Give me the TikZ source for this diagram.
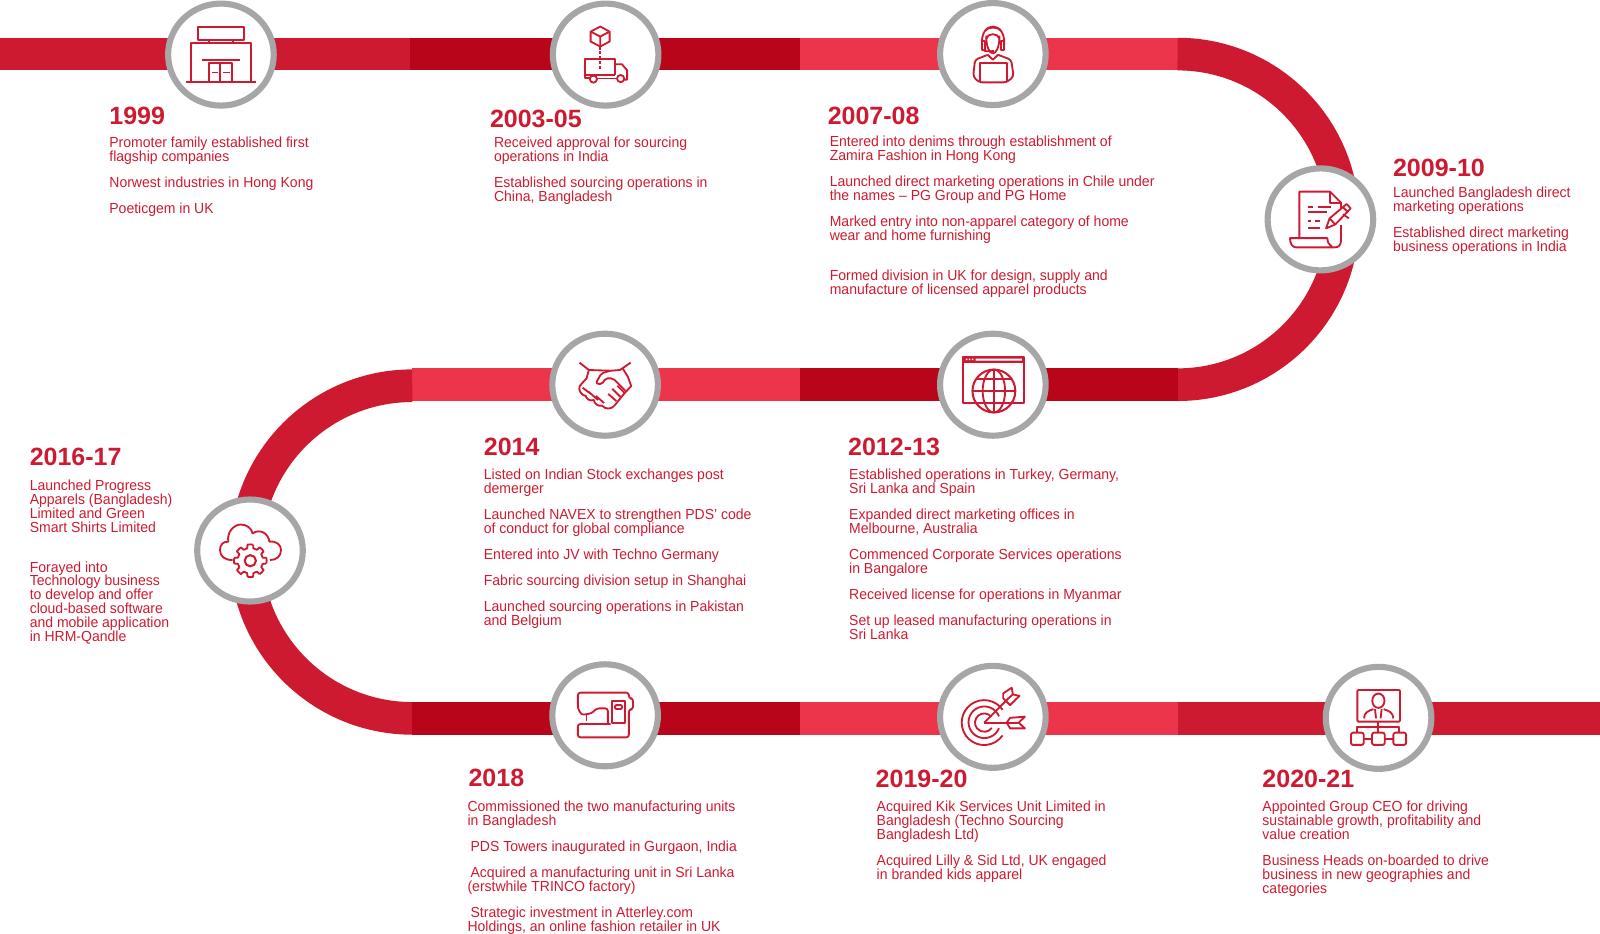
\documentclass[tikz,border=0pt]{standalone}
\usepackage{fontspec}
\setmainfont[FakeStretch=0.96, BoldFeatures={FakeStretch=1}]{Liberation Sans}
\usetikzlibrary{shapes.geometric}
\usetikzlibrary{positioning}
\definecolor{bandred}{HTML}{CE1A30}
\definecolor{banddark}{HTML}{B90519}
\definecolor{bandlight}{HTML}{EC344A}
\definecolor{ringgrey}{HTML}{A6A6A6}
\newcommand\bandwd{32pt}
\newcommand\iconwd{1.8pt}
\tikzset{
    band/.style={line width=\bandwd},
    stage/.style={ellipse, draw=ringgrey, fill=white, line width=6pt, inner sep=0pt,
        minimum width=103.5pt, minimum height=100pt},
    icon/.style={draw=bandred, line width=\iconwd, line join=round},
    yearlabel/.style={anchor=west, inner sep=0pt, yshift=-1pt, text=bandred,
        font=\fontsize{24.5}{28}\selectfont\bfseries},
    milestone/.style={anchor=north west, inner sep=0pt, yshift=5pt, align=left, text=bandred,
        font=\fontsize{14.3}{13.7}\selectfont, execute at begin node=\strut}
}
\begin{document}
\begin{tikzpicture}[x=1pt, y=-1pt]
  \useasboundingbox (0, 0) rectangle (1568, 915.3);
  \draw[band, bandred] (0, 53) -- (402, 53);
  \draw[band, banddark] (402, 53) -- (784, 53);
  \draw[band, bandlight] (784, 53) -- (1154, 53);
  \draw[band, bandred] (1154, 53) arc[start angle=90, end angle=-90, radius=162pt];
  \draw[band, banddark] (1154, 377) -- (784, 377);
  \draw[band, bandlight] (784, 377) -- (404, 377);
  \draw[band, bandred] (404, 378) arc[start angle=90, end angle=270, radius=163pt];
  \draw[band, banddark] (404, 704) -- (784, 704);
  \draw[band, bandlight] (784, 704) -- (1154, 704);
  \draw[band, bandred] (1154, 704) -- (1568, 704);

  \draw (216.5, 53.5) node[stage] (store) {};
  \draw (593.5, 53.5) node[stage] (truck) {};
  \draw (973, 53) node[stage] (agent) {};
  \draw (1294, 215) node[stage] (scroll) {};
  \draw (593, 377) node[stage] (shake) {};
  \draw (973, 377) node[stage] (globe) {};
  \draw (245, 539.5) node[stage] (cloud) {};
  \draw (593, 701) node[stage] (sewing) {};
  \draw (973, 702.5) node[stage] (target) {};
  \draw (1351, 703.5) node[stage] (screen) {};

  \draw[icon] (194, 26.6) rectangle (239, 39);
  \draw[icon] (205, 39) -- (205, 42) (228, 39) -- (228, 42);
  \draw[icon] (187, 80.5) -- (187, 42) -- (246, 42) -- (246, 80.5);
  \draw[icon, line width=2.4pt] (197.5, 59) -- (235.5, 59);
  \draw[icon] (205, 80.5) -- (205, 62) -- (227, 62) -- (227, 80.5) (216, 62) -- (216, 80.5);
  \draw[icon] (208, 71) -- (214, 71) (218.5, 71) -- (225, 71);
  \draw[icon] (182.5, 80.5) -- (250.7, 80.5);

  \draw[icon] (588.3, 26) -- (597.4, 31) -- (597.4, 40.7) -- (588.3, 45.6) -- (578.8, 40.7) -- (578.8, 31) -- cycle;
  \draw[icon] (578.8, 31) -- (588.3, 35.8) -- (597.4, 31) (588.3, 35.8) -- (588.3, 45.6);
  \draw[icon, dashed, dash pattern=on 3pt off 1.8pt] (588.3, 45.6) -- (588.3, 68.4);
  \draw[icon] (602.8, 73.3) -- (602.8, 57.7) -- (573.7, 57.7) -- (573.7, 76.5) -- (578, 76.5);
  \draw[icon] (573.7, 73.3) -- (602.8, 73.3);
  \draw[icon] (602.8, 62.9) -- (609.5, 62.9) -- (614.6, 69) -- (614.6, 78) -- (611.7, 78);
  \draw[icon] (585, 77) -- (604.7, 77);
  \draw[icon] (581.5, 77.5) circle[radius=3.5pt];
  \draw[icon] (608.2, 77) circle[radius=3.5pt];

  \draw[icon] (966.5, 35) .. controls (966.5, 58) and (979.5, 58) .. (979.5, 35);
  \draw[icon] (966.5, 38) .. controls (968, 32) and (978, 32) .. (979.5, 38);
  \draw[icon] (962.5, 44) .. controls (960, 20) and (986, 20) .. (984, 44);
  \draw[icon] (965.5, 30) .. controls (968, 26) and (978, 26) .. (981, 30);
  \draw[icon] (962.5, 40) rectangle (965.5, 49) (981, 40) rectangle (984, 49);
  \draw[icon] (964, 49) .. controls (965, 50.5) and (968, 50.5) .. (974, 50);
  \draw[icon] (968, 53.7) -- (973, 58.6) -- (978, 53.7);
  \draw[icon, rounded corners=3pt] (968, 53.7) -- (955.5, 58.6) -- (953.7, 75) -- (959.5, 80.7) -- (986.5, 80.7) -- (993.3, 75) -- (991, 58.6) -- (978, 53.7);
  \draw[icon] (960.5, 80.7) -- (960.5, 62) -- (987.2, 62) -- (987.2, 80.7);

  \draw[icon] (1273.4, 233) -- (1273.4, 187.8) -- (1303.4, 187.8) -- (1314.2, 198.6) -- (1314.2, 204.2);
  \draw[icon] (1303.4, 187.8) -- (1303.4, 198.6) -- (1314.2, 198.6);
  \draw[icon] (1314.2, 220.5) -- (1314.2, 235.2) .. controls (1314.2, 240) and (1312, 242.4) .. (1308.3, 242.4) -- (1270, 242.4) .. controls (1266, 242.4) and (1264.2, 238) .. (1264.2, 233.4) -- (1300.8, 233.4) .. controls (1301, 237) and (1302, 240) .. (1305, 241.5);
  \draw[icon] (1281.5, 202.5) -- (1286.4, 202.5) (1292, 202.5) -- (1304, 202.5);
  \draw[icon] (1281.5, 208) -- (1300.8, 208);
  \draw[icon] (1281.5, 216.6) -- (1284.5, 216.6) (1288.7, 216.6) -- (1293.6, 216.6);
  \draw[icon] (1281.5, 223.8) -- (1293.6, 223.8);
  \draw[icon] (1299.5, 223.8) -- (1303, 214) -- (1319.7, 199.9) -- (1323.7, 204.2) -- (1308.5, 220) -- cycle;
  \draw[icon] (1303, 214) -- (1308.5, 220) (1316, 203) -- (1320.5, 207.5) (1316, 210) -- (1322, 214);

  \draw[icon] (568, 355.4) -- (577.1, 362.6) -- (598.4, 363.3);
  \draw[icon] (618, 355.4) -- (607.5, 362.6) -- (598.4, 363.3);
  \draw[icon] (577.1, 362.6) -- (574.8, 370.8) -- (568, 378.3);
  \draw[icon] (610.2, 361) -- (615.3, 369.2) -- (618.6, 378.3) -- (611.9, 385.5) -- (601.8, 397.9);
  \draw[icon, rounded corners=2pt] (598.4, 363.3) -- (589.3, 365.9) -- (583.9, 375.7) -- (590, 376.6) -- (593.3, 370.8) -- (600.8, 370.8) -- (612.9, 382.9);
  \draw[icon] (568, 378.3) to[bend right=50] (574, 388) to[bend right=50] (582, 392) to[bend right=50] (590, 397.5) to[bend right=50] (601.8, 397.9);
  \draw[icon] (571, 380) -- (579, 386) (577, 384) -- (586, 392) (584, 388) -- (592, 395);
  \draw[icon] (605, 378) -- (612, 385) (600, 381) -- (608, 389) (596, 386) -- (604, 393);

  \draw[icon] (966, 395.3) -- (943.7, 395.3) -- (943.7, 349.5) -- (1003.7, 349.5) -- (1003.7, 395.3) -- (982, 395.3);
  \fill[bandred] (943.7, 349.5) rectangle (1003.7, 356);
  \fill[white] (946.5, 351.5) rectangle (948, 353) (949.5, 351.5) rectangle (951, 353) (952.5, 351.5) rectangle (954, 353) (956, 351.5) rectangle (1001.5, 353.5);
  \draw[icon, line width=2pt] (974, 383.2) circle[radius=21pt];
  \draw[icon] (974, 383.2) ellipse[x radius=11pt, y radius=21pt];
  \draw[icon] (974, 362.2) -- (974, 404.2) (953, 383.2) -- (995, 383.2);
  \draw[icon] (957, 371.5) -- (991, 371.5) (957, 395) -- (991, 395);

  \coordinate (cog) at (245.3, 549.5);
  \draw[icon, line width=2pt] (cog) circle[radius=5.5pt];
  \foreach \ang in {0, 45, ..., 315} {
    \draw[icon] ([shift={(\ang-10:16pt)}]cog) arc[start angle=\ang-10, end angle=\ang+10, radius=16pt]
      -- ([shift={(\ang+14:12.5pt)}]cog) arc[start angle=\ang+14, end angle=\ang+31, radius=12.5pt]
      -- ([shift={(\ang+35:16pt)}]cog);
  }
  \draw[icon] (228, 548.8) .. controls (220, 549) and (215.6, 545) .. (215.6, 539) .. controls (215.6, 533.5) and (219, 530.5) .. (223.8, 530.8) .. controls (222, 522) and (229, 514) .. (236, 514) .. controls (242, 514) and (246.5, 518) .. (247.6, 522.7) .. controls (254, 518) and (263, 522) .. (264, 530.8) .. controls (271, 530) and (275.4, 534) .. (275.4, 539) .. controls (275.4, 545) and (271, 549) .. (264.6, 548.8);

  \draw[icon, rounded corners=2.5pt] (595.7, 709.5) -- (595.7, 694.2) -- (584.9, 694.2) -- (579.8, 699) -- (570, 700.7) -- (566.3, 694.2) -- (566.3, 678.8) -- (616.3, 678.8) -- (616.3, 684.4) -- (620.3, 684.4) -- (620.3, 695.2) -- (616.3, 695.2) -- (616.3, 722.6) -- (566.3, 722.6) -- (566.3, 709.5) -- (598.4, 709.5);
  \draw[icon] (574.8, 700.7) -- (574.8, 706.3);
  \draw[icon] (599.4, 686.7) rectangle (612.9, 708.9);
  \draw[icon, rounded corners=1pt] (602.8, 691) rectangle (609.5, 694.8);

  \draw[icon] (982.5, 695.5) arc[start angle=35, end angle=325, radius=22pt];
  \draw[icon] (979, 702) arc[start angle=22, end angle=338, radius=15.5pt];
  \draw[icon] (971.5, 702.5) arc[start angle=39, end angle=325, radius=9pt];
  \draw[icon] (964.5, 708.2) -- (988.2, 684.4);
  \draw[icon] (983.2, 684.4) -- (983.2, 679.5) -- (991.5, 673.9) -- (992.6, 680.5) -- (999, 682) -- (989.9, 691) -- cycle;
  \draw[icon] (988.2, 684.4) -- (992.6, 680.5);
  \draw[icon] (964.5, 708.2) -- (998.3, 708.2);
  \draw[icon] (986.5, 708.2) -- (989.9, 703.5) -- (1004.4, 702.3) -- (998.3, 708.2) -- (1004.4, 713.8) -- (989.9, 713.8) -- cycle;

  \draw[icon, rounded corners=1pt] (1330.2, 676.2) rectangle (1372, 707.2);
  \draw[icon] (1350.8, 686.7) ellipse[x radius=6pt, y radius=7pt];
  \draw[icon] (1336.7, 704) .. controls (1337, 698) and (1341, 696.5) .. (1346, 695) (1365.5, 704) .. controls (1365, 698) and (1361, 696.5) .. (1356, 695);
  \draw[icon] (1347.5, 695) -- (1348.5, 704) (1354, 695) -- (1353, 704);
  \draw[icon] (1350.8, 707.2) -- (1350.8, 712.8);
  \draw[icon] (1330.2, 718) -- (1330.2, 712.8) -- (1371.4, 712.8) -- (1371.4, 718) (1350.8, 712.8) -- (1350.8, 718);
  \draw[icon, rounded corners=2pt] (1324, 718) rectangle (1336.4, 730);
  \draw[icon, rounded corners=2pt] (1344.6, 718) rectangle (1357, 730);
  \draw[icon, rounded corners=2pt] (1365.5, 718) rectangle (1378, 730);
  \draw[icon] (1336.4, 724) -- (1344.6, 724) (1357, 724) -- (1365.5, 724);

  \draw (107, 113) node[yearlabel] (y1999) {1999};
  \draw (107, 139) node[milestone] (a1999) {Promoter family established first\\flagship companies};
  \draw (107, 178) node[milestone] (b1999) {Norwest industries in Hong Kong};
  \draw (107, 204) node[milestone] (c1999) {Poeticgem in UK};

  \draw (480, 116) node[yearlabel] (y2003) {2003-05};
  \draw (484, 139) node[milestone] (a2003) {Received approval for sourcing\\operations in India};
  \draw (484, 178) node[milestone] (b2003) {Established sourcing operations in\\China, Bangladesh};

  \draw (811, 113) node[yearlabel] (y2007) {2007-08};
  \draw (813, 138) node[milestone] (a2007) {Entered into denims through establishment of\\Zamira Fashion in Hong Kong};
  \draw (813, 177) node[milestone] (b2007) {Launched direct marketing operations in Chile under\\the names -- PG Group and PG Home};
  \draw (813, 216.5) node[milestone] (c2007) {Marked entry into non-apparel category of home\\wear and home furnishing};
  \draw (813, 269.5) node[milestone] (d2007) {Formed division in UK for design, supply and\\manufacture of licensed apparel products};

  \draw (1365, 164) node[yearlabel] (y2009) {2009-10};
  \draw (1365, 188) node[milestone] (a2009) {Launched Bangladesh direct\\marketing operations};
  \draw (1365, 227) node[milestone] (b2009) {Established direct marketing\\business operations in India};

  \draw (831, 437) node[yearlabel] (y2012) {2012-13};
  \draw (832, 464) node[milestone] (a2012) {Established operations in Turkey, Germany,\\Sri Lanka and Spain};
  \draw (832, 503.5) node[milestone] (b2012) {Expanded direct marketing offices in\\Melbourne, Australia};
  \draw (832, 543) node[milestone] (c2012) {Commenced Corporate Services operations\\in Bangalore};
  \draw (832, 582) node[milestone] (d2012) {Received license for operations in Myanmar};
  \draw (832, 607) node[milestone] (e2012) {Set up leased manufacturing operations in\\Sri Lanka};

  \draw (474, 437) node[yearlabel] (y2014) {2014};
  \draw (474, 464) node[milestone] (a2014) {Listed on Indian Stock exchanges post\\demerger};
  \draw (474, 503.5) node[milestone] (b2014) {Launched NAVEX to strengthen PDS’ code\\of conduct for global compliance};
  \draw (474, 543) node[milestone] (c2014) {Entered into JV with Techno Germany};
  \draw (474, 568) node[milestone] (d2014) {Fabric sourcing division setup in Shanghai};
  \draw (474, 594) node[milestone] (e2014) {Launched sourcing operations in Pakistan\\and Belgium};

  \draw (29, 447) node[yearlabel] (y2016) {2016-17};
  \draw (29, 475) node[milestone] (a2016) {Launched Progress\\Apparels (Bangladesh)\\Limited and Green\\Smart Shirts Limited};
  \draw (29, 555) node[milestone] (b2016) {Forayed into\\Technology business\\to develop and offer\\cloud-based software\\and mobile application\\in HRM-Qandle};

  \draw (459, 761) node[yearlabel] (y2018) {2018};
  \draw (458, 789.5) node[milestone] (a2018) {Commissioned the two manufacturing units\\in Bangladesh};
  \draw (461, 829) node[milestone] (b2018) {PDS Towers inaugurated in Gurgaon, India};
  \draw (458, 854) node[milestone] (c2018) {\hspace{3pt}Acquired a manufacturing unit in Sri Lanka\\(erstwhile TRINCO factory)};
  \draw (458, 893.5) node[milestone] (d2018) {\hspace{3pt}Strategic investment in Atterley.com\\Holdings, an online fashion retailer in UK};

  \draw (858, 762) node[yearlabel] (y2019) {2019-20};
  \draw (859, 789.5) node[milestone] (a2019) {Acquired Kik Services Unit Limited in\\Bangladesh (Techno Sourcing\\Bangladesh Ltd)};
  \draw (859, 843) node[milestone] (b2019) {Acquired Lilly \& Sid Ltd, UK engaged\\in branded kids apparel};

  \draw (1237, 762) node[yearlabel] (y2020) {2020-21};
  \draw (1237, 789.5) node[milestone] (a2020) {Appointed Group CEO for driving\\sustainable growth, profitability and\\value creation};
  \draw (1237, 843) node[milestone] (b2020) {Business Heads on-boarded to drive\\business in new geographies and\\categories};
\end{tikzpicture}
\end{document}
